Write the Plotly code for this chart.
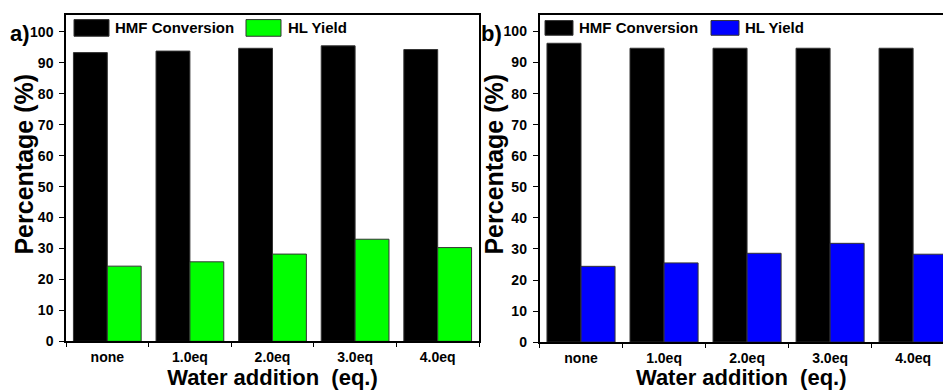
import plotly.graph_objects as go

# ---- data ----
categories = ["none", "1.0eq", "2.0eq", "3.0eq", "4.0eq"]
hmf_a = [93.3, 93.8, 94.7, 95.5, 94.3]
hl_a = [24.3, 25.7, 28.2, 33.0, 30.3]
hmf_b = [96.2, 94.6, 94.6, 94.6, 94.6]
hl_b = [24.4, 25.5, 28.6, 31.8, 28.3]
series_names = ["HMF Conversion", "HL Yield"]
panel_labels = ["a)", "b)"]
x_title = "Water addition\u00a0 (eq.)"
y_title = "Percentage (%)"

BLACK = "#000000"
GREEN = "#00ff00"
BLUE = "#0000ff"
EDGE = "#333333"

W, H = 943, 390


def px(x):
    return x / W


def py(y):
    return 1 - y / H


FONT = "Liberation Sans, Arial, sans-serif"

fig = go.Figure()
fig.add_bar(x=categories, y=hmf_a, name=series_names[0], xaxis="x", yaxis="y",
            marker=dict(color=BLACK, line=dict(color=EDGE, width=1)), showlegend=False)
fig.add_bar(x=categories, y=hl_a, name=series_names[1], xaxis="x", yaxis="y",
            marker=dict(color=GREEN, line=dict(color=EDGE, width=1)), showlegend=False)
fig.add_bar(x=categories, y=hmf_b, name=series_names[0], xaxis="x2", yaxis="y2",
            marker=dict(color=BLACK, line=dict(color=EDGE, width=1)), showlegend=False)
fig.add_bar(x=categories, y=hl_b, name=series_names[1], xaxis="x2", yaxis="y2",
            marker=dict(color=BLUE, line=dict(color=EDGE, width=1)), showlegend=False)

tickfont = dict(family=FONT, size=14, color="black", weight="bold")
titlefont = dict(family=FONT, size=22, color="black", weight="bold")

xcommon = dict(type="category", tickson="boundaries", ticks="outside", ticklen=4,
               tickwidth=1, tickcolor="black", showline=True, linecolor="black",
               linewidth=1.5, showgrid=False, zeroline=False, tickfont=tickfont,
               ticklabelstandoff=2,
               title=dict(text=x_title, font=titlefont, standoff=5))
ycommon = dict(range=[0, 105.4], tick0=0, dtick=10, ticks="outside", ticklen=5,
               tickwidth=1, tickcolor="black", showline=True, linecolor="black",
               linewidth=1.5, showgrid=False, zeroline=False, tickfont=tickfont,
               ticklabelstandoff=3)

fig.update_layout(
    width=W, height=H,
    margin=dict(l=0, r=0, t=0, b=0),
    paper_bgcolor="white", plot_bgcolor="white",
    barmode="group", bargap=0.18, bargroupgap=0,
    showlegend=False,
    xaxis=dict(xcommon, domain=[px(66), px(479)], range=[-0.5, 4.5], anchor="y", mirror=True),
    yaxis=dict(ycommon, domain=[py(348.5), py(15.5)], anchor="x", mirror=True),
    xaxis2=dict(xcommon, domain=[px(539.5), 1.0], range=[-0.5, 4.36], anchor="y2", mirror=True),
    yaxis2=dict(ycommon, domain=[py(349.3), py(15)], anchor="x2", mirror=False),
)

# y-axis titles
for tx in [24, 494]:
    fig.add_annotation(text=y_title, xref="paper", yref="paper", x=px(tx), y=py(168),
                       xanchor="center", yanchor="middle", textangle=-90, showarrow=False,
                       font=dict(family=FONT, size=25, color="black", weight="bold"))

# legends drawn as swatches + labels
legfont = dict(family=FONT, size=15, color="black", weight="bold")
legend_items = [
    # (x0, x1, y0, y1, color, text, text_x)
    (74, 109, 20, 37, BLACK, series_names[0], 113),
    (246, 281, 20, 37, GREEN, series_names[1], 286),
    (545, 573, 21, 36, BLACK, series_names[0], 577),
    (711, 739, 21, 36, BLUE, series_names[1], 743),
]
for x0, x1, y0, y1, col, txt, tx in legend_items:
    fig.add_shape(type="rect", xref="paper", yref="paper",
                  x0=px(x0), x1=px(x1), y0=py(y1), y1=py(y0),
                  fillcolor=col, line=dict(color=EDGE, width=1))
    fig.add_annotation(text=txt, xref="paper", yref="paper", x=px(tx), y=py((y0 + y1) / 2),
                       xanchor="left", yanchor="middle", showarrow=False, font=legfont)

# panel labels
for lbl, lx in zip(panel_labels, [9, 480]):
    fig.add_annotation(text=lbl, xref="paper", yref="paper", x=px(lx), y=py(34),
                       xanchor="left", yanchor="middle", showarrow=False, borderpad=0,
                       font=dict(family=FONT, size=22, color="black", weight="bold"))

fig.write_html("out.html", config={"displayModeBar": False},
               post_script="document.body.style.margin='0';")
